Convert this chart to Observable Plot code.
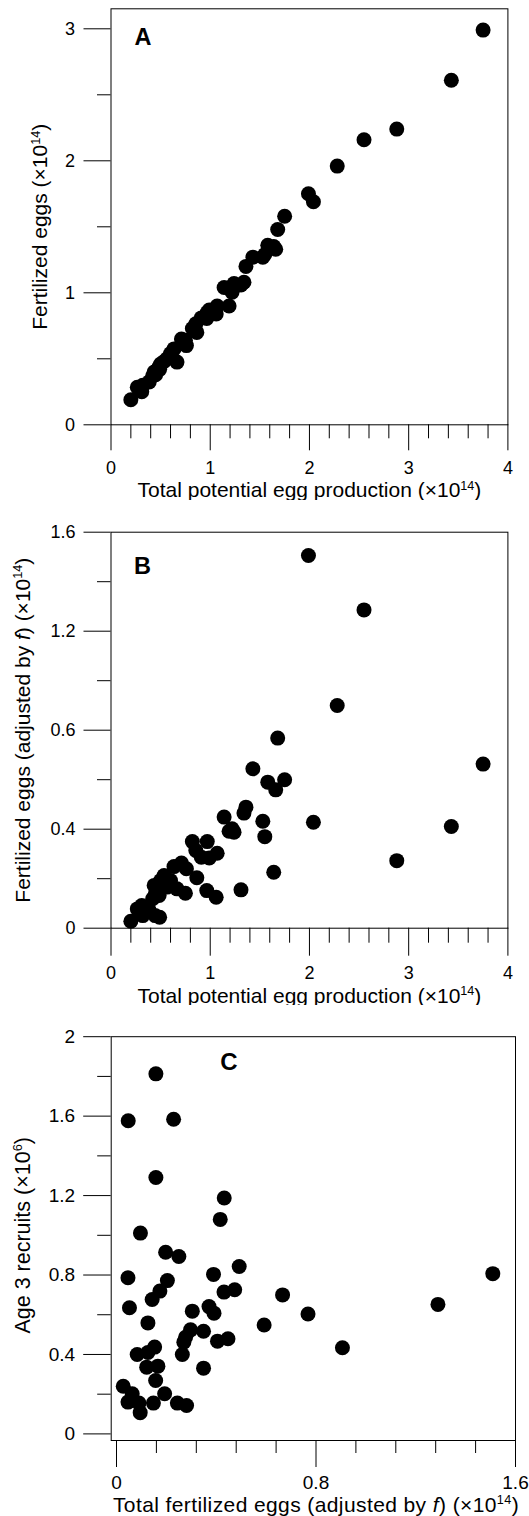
<!DOCTYPE html>
<html>
<head>
<meta charset="utf-8">
<script src="https://cdn.jsdelivr.net/npm/d3@7"></script>
<script src="https://cdn.jsdelivr.net/npm/@observablehq/plot@0.6"></script>
<style>
html, body { margin: 0; padding: 0; background: #fff; }
#root { position: relative; width: 529px; height: 1516px; overflow: hidden; background: #fff; }
.panel { position: absolute; left: 0; }
</style>
</head>
<body>
<div id="root"></div>
<script>
// ---------- DATA ----------
// Panels A & B share the x values (total potential egg production, ×10^14)
const eggProduction = [1.99, 2.55, 2.28, 1.68, 3.75, 1.43, 1.58, 1.75, 1.66, 1.36, 1.34, 1.14, 1.53, 2.04, 3.43, 1.22, 1.24, 1.19, 1.55, 0.82, 0.97, 1.07, 0.855, 0.91, 0.99, 2.88, 0.71, 0.635, 0.76, 1.64, 0.865, 0.50, 0.60, 0.435, 0.565, 0.665, 0.965, 1.31, 0.75, 0.485, 1.06, 0.42, 0.31, 0.265, 0.385, 0.445, 0.49, 0.32, 0.20, 0.535, 0.45];
// Panel A y: fertilized eggs (×10^14)
const fertilizedEggs = [1.75, 2.16, 1.96, 1.48, 2.99, 1.27, 1.36, 1.58, 1.33, 1.20, 1.08, 1.04, 1.27, 1.69, 2.61, 1.005, 1.07, 0.90, 1.29, 0.73, 0.85, 0.90, 0.765, 0.81, 0.87, 2.24, 0.65, 0.575, 0.60, 1.35, 0.70, 0.46, 0.54, 0.40, 0.50, 0.475, 0.805, 1.06, 0.64, 0.44, 0.84, 0.37, 0.25, 0.285, 0.325, 0.40, 0.42, 0.30, 0.19, 0.48, 0.38];
// Panel B y: fertilized eggs adjusted by f (×10^14)
const fertilizedAdj = [1.506, 1.286, 0.900, 0.768, 0.663, 0.644, 0.590, 0.600, 0.559, 0.489, 0.465, 0.449, 0.432, 0.428, 0.411, 0.402, 0.388, 0.392, 0.370, 0.350, 0.350, 0.303, 0.314, 0.287, 0.284, 0.273, 0.263, 0.249, 0.240, 0.226, 0.204, 0.193, 0.193, 0.173, 0.166, 0.159, 0.152, 0.155, 0.141, 0.132, 0.125, 0.119, 0.092, 0.078, 0.072, 0.051, 0.044, 0.051, 0.028, 0.213, 0.145];
// Panel C: total fertilized eggs adjusted by f (×10^14) vs age 3 recruits (×10^6)
const cFertilizedAdj = [0.158, 0.047, 0.229, 0.158, 0.432, 0.416, 0.096, 0.197, 0.250, 0.492, 1.509, 0.046, 0.389, 0.204, 0.666, 0.174, 0.143, 0.474, 0.431, 1.289, 0.052, 0.304, 0.371, 0.391, 0.768, 0.126, 0.592, 0.297, 0.277, 0.349, 0.270, 0.405, 0.447, 0.906, 0.153, 0.126, 0.083, 0.264, 0.121, 0.166, 0.349, 0.157, 0.027, 0.063, 0.193, 0.046, 0.090, 0.148, 0.244, 0.281, 0.095];
const recruits = [1.813, 1.577, 1.584, 1.291, 1.188, 1.080, 1.011, 0.915, 0.893, 0.843, 0.807, 0.786, 0.803, 0.772, 0.700, 0.719, 0.677, 0.726, 0.714, 0.652, 0.635, 0.618, 0.641, 0.608, 0.604, 0.559, 0.548, 0.524, 0.487, 0.517, 0.462, 0.467, 0.479, 0.434, 0.437, 0.410, 0.400, 0.400, 0.336, 0.341, 0.331, 0.269, 0.240, 0.202, 0.202, 0.160, 0.155, 0.155, 0.155, 0.143, 0.107];

// ---------- TEXT / TICKS ----------
const panelLabels = ["A", "B", "C"];
const xTitles = [
  "Total potential egg production (×10^14^)",
  "Total potential egg production (×10^14^)",
  "Total fertilized eggs (adjusted by _f_) (×10^14^)"
];
const yTitles = [
  "Fertilized eggs (×10^14^)",
  "Fertilized eggs (adjusted by _f_) (×10^14^)",
  "Age 3 recruits (×10^6^)"
];
const aXTicks = [0, 1, 2, 3, 4], aXTickLabels = ["0", "1", "2", "3", "4"];
const aYTicks = [0, 1, 2, 3], aYTickLabels = ["0", "1", "2", "3"];
const bYTicks = [0, 0.4, 0.8, 1.2, 1.6], bYTickLabels = ["0", "0.4", "0.6", "1.2", "1.6"];
const cXTicks = [0, 0.8, 1.6], cXTickLabels = ["0", "0.8", "1.6"];
const cYTicks = [0, 0.4, 0.8, 1.2, 1.6, 2], cYTickLabels = ["0", "0.4", "0.8", "1.2", "1.6", "2"];

// minor tick positions
const abXMinor = d3.range(21).filter(i => i % 5 !== 0).map(i => i * 0.2);
const aYMinor = [0.5, 1.5, 2.5];
const bYMinor = d3.range(9).filter(i => i % 2 === 1).map(i => i * 0.2);
const cXMinor = d3.range(11).filter(i => i % 5 !== 0).map(i => i * 0.16);
const cYMinor = d3.range(11).filter(i => i % 2 === 1).map(i => i * 0.2);

const FONT = "'Liberation Sans', Arial, Helvetica, sans-serif";

// turn ^..^ into superscripts and _.._ into italics
function richify(svg, spacing) {
  d3.select(svg).selectAll("text").each(function () {
    const s = this.textContent;
    if (!/[\^_]/.test(s)) return;
    const holder = this.closest("[font-size]");
    const fs = holder ? parseFloat(holder.getAttribute("font-size")) : 20;
    const parts = s.split(/(\^[^\^]*\^|_[^_]*_)/).filter(p => p.length);
    const el = d3.select(this);
    el.text(null);
    if (spacing && /adjusted/.test(s) && /Total/.test(s)) el.attr("letter-spacing", spacing);
    let shifted = false;
    for (const p of parts) {
      if (p[0] === "^") {
        el.append("tspan").attr("font-size", fs * 0.6).attr("dy", -fs * 0.36).text(p.slice(1, -1));
        shifted = true;
      } else {
        const t = el.append("tspan");
        if (shifted) { t.attr("dy", fs * 0.36); shifted = false; }
        if (p[0] === "_") t.attr("font-style", "italic").text(p.slice(1, -1));
        else t.text(p);
      }
    }
  });
}

function makePanel(c) {
  const xMap = new Map(c.xMajor.map((d, i) => [d, c.xLabels[i]]));
  const yMap = new Map(c.yMajor.map((d, i) => [d, c.yLabels[i]]));
  const svg = Plot.plot({
    width: 529,
    height: c.height,
    marginTop: c.mt, marginBottom: c.mb, marginLeft: c.ml, marginRight: c.mr,
    style: { fontFamily: FONT, background: "white", color: "black", overflow: "visible" },
    x: { domain: c.xDomain, range: c.xRange },
    y: { domain: c.yDomain, range: c.yRange },
    marks: [
      Plot.frame({ stroke: "black", strokeWidth: 1 }),
      Plot.axisX(c.xMinor, { anchor: "bottom", tickSize: c.xMinorSize, tickFormat: () => "", label: null, strokeWidth: 1 }),
      Plot.axisX(c.xMajor, { anchor: "bottom", tickSize: c.xMajorSize, tickPadding: c.xPad, tickFormat: d => xMap.get(d), fontSize: c.tickFont, label: null, strokeWidth: 1 }),
      Plot.axisY(c.yMinor, { anchor: "left", tickSize: c.yMinorSize, tickFormat: () => "", label: null, strokeWidth: 1 }),
      Plot.axisY(c.yMajor, { anchor: "left", tickSize: c.yMajorSize, tickPadding: c.yPad, tickFormat: d => yMap.get(d), fontSize: c.tickFont, label: null, strokeWidth: 1 }),
      Plot.dot(c.points, { x: "x", y: "y", r: 7.5, fill: "black", stroke: null }),
      Plot.text([c.letter], { text: d => d, frameAnchor: "top-left", dx: c.letterDx, dy: c.letterDy, fontSize: c.letterSize, fontWeight: "bold", textAnchor: "start", lineAnchor: "middle" }),
      Plot.text([{ t: c.xTitle, v: c.xMid }], { x: "v", text: "t", frameAnchor: "bottom", dy: c.xTitleDy, fontSize: c.xTitleSize, lineAnchor: "middle" }),
      Plot.text([{ t: c.yTitle, v: c.yMid }], { y: "v", text: "t", frameAnchor: "left", dx: c.yTitleDx, rotate: -90, fontSize: c.yTitleSize, lineAnchor: "middle", textAnchor: "middle" })
    ]
  });
  richify(svg, c.titleSpacing);
  const div = document.createElement("div");
  div.className = "panel";
  div.style.top = c.top + "px";
  div.appendChild(svg);
  document.getElementById("root").appendChild(div);
}

const ptsA = eggProduction.map((x, i) => ({ x, y: fertilizedEggs[i] }));
const ptsB = eggProduction.map((x, i) => ({ x, y: fertilizedAdj[i] }));
const ptsC = cFertilizedAdj.map((x, i) => ({ x, y: recruits[i] }));

// Panel A
makePanel({
  top: 0, height: 500, mt: 8.3, mb: 75.7, ml: 110.5, mr: 21.6,
  xDomain: [0, 4], xRange: [110.5, 507.4], yDomain: [0, 3], yRange: [424.3, 28.3],
  xMajor: aXTicks, xLabels: aXTickLabels, xMinor: abXMinor, xMajorSize: 26, xMinorSize: 14, xPad: 10.5,
  yMajor: aYTicks, yLabels: aYTickLabels, yMinor: aYMinor, yMajorSize: 27, yMinorSize: 13.5, yPad: 9,
  tickFont: 18, points: ptsA,
  letter: panelLabels[0], letterDx: 23.5, letterDy: 28.4, letterSize: 23.5,
  xTitle: xTitles[0], xMid: 2, xTitleDy: 65.6, xTitleSize: 21,
  yTitle: yTitles[0], yMid: 1.5, yTitleDx: -70.5, yTitleSize: 21
});

// Panel B
makePanel({
  top: 500, height: 505, mt: 31.7, mb: 77.3, ml: 110.5, mr: 21.6,
  xDomain: [0, 4], xRange: [110.5, 507.4], yDomain: [0, 1.6], yRange: [427.7, 31.7],
  xMajor: aXTicks, xLabels: aXTickLabels, xMinor: abXMinor, xMajorSize: 28, xMinorSize: 15, xPad: 10.5,
  yMajor: bYTicks, yLabels: bYTickLabels, yMinor: bYMinor, yMajorSize: 27, yMinorSize: 13.5, yPad: 8.5,
  tickFont: 18, points: ptsB,
  letter: panelLabels[1], letterDx: 23, letterDy: 34.3, letterSize: 23.5,
  xTitle: xTitles[1], xMid: 2, xTitleDy: 67.6, xTitleSize: 21,
  yTitle: yTitles[1], yMid: 0.8, yTitleDx: -88, yTitleSize: 21
});

// Panel C
makePanel({
  top: 1005, height: 511, mt: 31.2, mb: 76, ml: 110.7, mr: 14,
  xDomain: [0, 1.6], xRange: [116, 515], yDomain: [0, 2], yRange: [428.4, 31.2],
  xMajor: cXTicks, xLabels: cXTickLabels, xMinor: cXMinor, xMajorSize: 27, xMinorSize: 13, xPad: 7.5,
  yMajor: cYTicks, yLabels: cYTickLabels, yMinor: cYMinor, yMajorSize: 27.5, yMinorSize: 13.5, yPad: 8.5,
  tickFont: 19, points: ptsC,
  letter: panelLabels[2], letterDx: 109, letterDy: 25.6, letterSize: 24,
  xTitle: xTitles[2], xMid: 0.8, xTitleDy: 64.3, xTitleSize: 21, titleSpacing: 0.4,
  yTitle: yTitles[2], yMid: 1, yTitleDx: -88.5, yTitleSize: 21.5
});
</script>
</body>
</html>
